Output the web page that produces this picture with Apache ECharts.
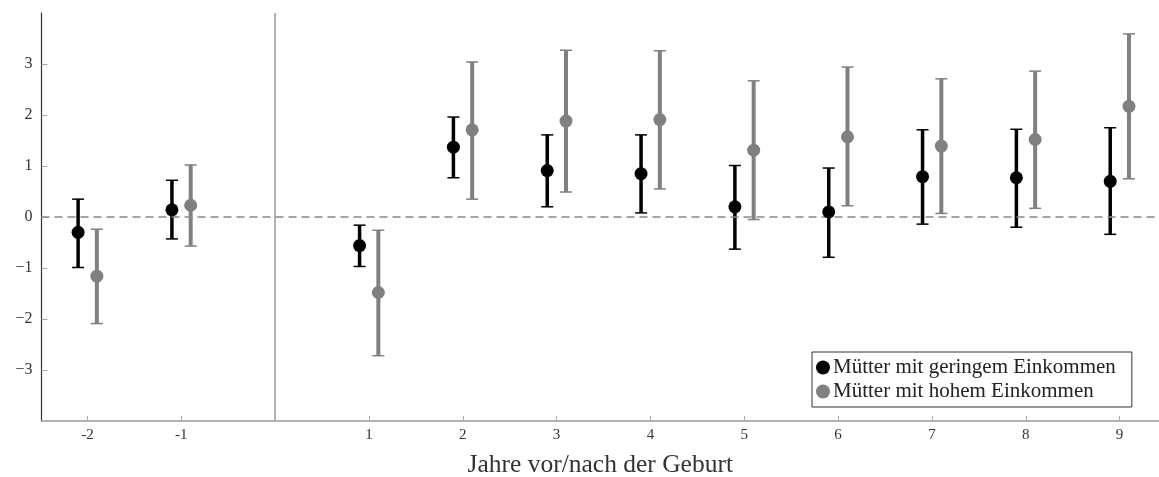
<!DOCTYPE html>
<html>
<head>
<meta charset="utf-8">
<script src="https://cdn.jsdelivr.net/npm/echarts@6/dist/echarts.min.js"></script>
<style>
html,body{margin:0;padding:0;background:#fff;}
#c{width:1159px;height:477px;}
</style>
</head>
<body>
<div id="c"></div>
<script>
const years = [-2, -1, 1, 2, 3, 4, 5, 6, 7, 8, 9];
const tickValues = [-2, -1, 1, 2, 3, 4, 5, 6, 7, 8, 9];
const yTicks = [-3, -2, -1, 0, 1, 2, 3];

const lowMean = [-0.30, 0.14, -0.56, 1.37, 0.91, 0.85, 0.20, 0.10, 0.79, 0.77, 0.70];
const lowLo   = [-0.99, -0.43, -0.97, 0.77, 0.20, 0.08, -0.63, -0.79, -0.14, -0.20, -0.34];
const lowHi   = [0.35, 0.72, -0.16, 1.96, 1.61, 1.61, 1.01, 0.96, 1.71, 1.72, 1.75];

const highMean = [-1.16, 0.23, -1.48, 1.71, 1.88, 1.91, 1.31, 1.57, 1.39, 1.52, 2.17];
const highLo   = [-2.09, -0.57, -2.72, 0.35, 0.49, 0.55, -0.05, 0.22, 0.07, 0.17, 0.75];
const highHi   = [-0.24, 1.02, -0.26, 3.04, 3.27, 3.26, 2.67, 2.94, 2.71, 2.86, 3.59];

const nameLow = 'Mütter mit geringem Einkommen';
const nameHigh = 'Mütter mit hohem Einkommen';

const OFF = 0.1;
const BLACK = '#000000';
const GRAY = '#808080';

function errSeries(name, offset, lo, hi, color, lw) {
  return {
    type: 'custom',
    name: name + '_err',
    data: years.map((y, i) => [y + offset, lo[i], hi[i]]),
    z: 3,
    silent: true,
    renderItem: function (params, api) {
      const x = api.value(0);
      const p1 = api.coord([x, api.value(1)]);
      const p2 = api.coord([x, api.value(2)]);
      const cap = 6;
      return {
        type: 'group',
        children: [
          { type: 'line', shape: { x1: p1[0], y1: p1[1], x2: p2[0], y2: p2[1] }, style: { stroke: color, lineWidth: lw } },
          { type: 'line', shape: { x1: p1[0] - cap, y1: p1[1], x2: p1[0] + cap, y2: p1[1] }, style: { stroke: color, lineWidth: 1.5 } },
          { type: 'line', shape: { x1: p2[0] - cap, y1: p2[1], x2: p2[0] + cap, y2: p2[1] }, style: { stroke: color, lineWidth: 1.5 } }
        ]
      };
    }
  };
}

const chart = echarts.init(document.getElementById('c'));
chart.setOption({
  animation: false,
  backgroundColor: '#ffffff',
  grid: { left: 41.5, right: 0, top: 13, bottom: 56, containLabel: false, outerBoundsMode: 'none' },
  legend: {
    data: [
      { name: nameLow, itemStyle: { color: BLACK, opacity: 1 } },
      { name: nameHigh, itemStyle: { color: GRAY, opacity: 1 } }
    ],
    orient: 'vertical',
    left: 812,
    top: 352,
    padding: [5, 16, 5, 4],
    itemGap: 3,
    itemWidth: 14,
    itemHeight: 14,
    icon: 'circle',
    borderColor: '#333',
    borderWidth: 1,
    backgroundColor: '#fff',
    textStyle: { fontFamily: 'Liberation Serif', fontSize: 21, color: '#222', padding: [0, 0, 0, -2] }
  },
  xAxis: {
    type: 'value',
    min: -2.49,
    max: 9.42,
    name: 'Jahre vor/nach der Geburt',
    nameLocation: 'middle',
    nameGap: 31,
    nameTextStyle: { fontFamily: 'Liberation Serif', fontSize: 25.5, color: '#333' },
    axisLine: { show: true, onZero: false, lineStyle: { color: '#999', width: 1.5 } },
    axisTick: { show: true, inside: true, length: 5, customValues: tickValues, lineStyle: { color: '#aaa' } },
    axisLabel: { customValues: tickValues, fontFamily: 'Liberation Serif', fontSize: 15, color: '#333', margin: 7, formatter: v => String(v) },
    splitLine: { show: false }
  },
  yAxis: {
    type: 'value',
    min: -4,
    max: 4,
    interval: 1,
    axisLine: { show: true, onZero: false, lineStyle: { color: '#333', width: 1.2 } },
    axisTick: { show: true, inside: true, length: 6, customValues: yTicks, lineStyle: { color: '#aaa' } },
    axisLabel: {
      customValues: yTicks,
      fontFamily: 'Liberation Serif', fontSize: 16, color: '#333', margin: 9,
      formatter: v => (v < 0 ? '\u2212' + Math.abs(v) : String(v))
    },
    splitLine: { show: false }
  },
  series: [
    {
      type: 'line',
      name: 'refs',
      data: [],
      silent: true,
      markLine: {
        silent: true,
        symbol: 'none',
        label: { show: false },
        data: [
          { xAxis: 0, lineStyle: { color: '#999', width: 1.5, type: 'solid' } },
          { yAxis: 0, lineStyle: { color: '#888', width: 1.5, type: [8, 5] } }
        ]
      }
    },
    errSeries(nameLow, -OFF, lowLo, lowHi, BLACK, 3.5),
    errSeries(nameHigh, OFF, highLo, highHi, GRAY, 4),
    {
      type: 'scatter',
      name: nameLow,
      data: years.map((y, i) => [y - OFF, lowMean[i]]),
      symbol: 'circle',
      symbolSize: 13,
      itemStyle: { color: BLACK, opacity: 1 },
      z: 5
    },
    {
      type: 'scatter',
      name: nameHigh,
      data: years.map((y, i) => [y + OFF, highMean[i]]),
      symbol: 'circle',
      symbolSize: 13,
      itemStyle: { color: GRAY, opacity: 1 },
      z: 5
    }
  ]
});
</script>
</body>
</html>
